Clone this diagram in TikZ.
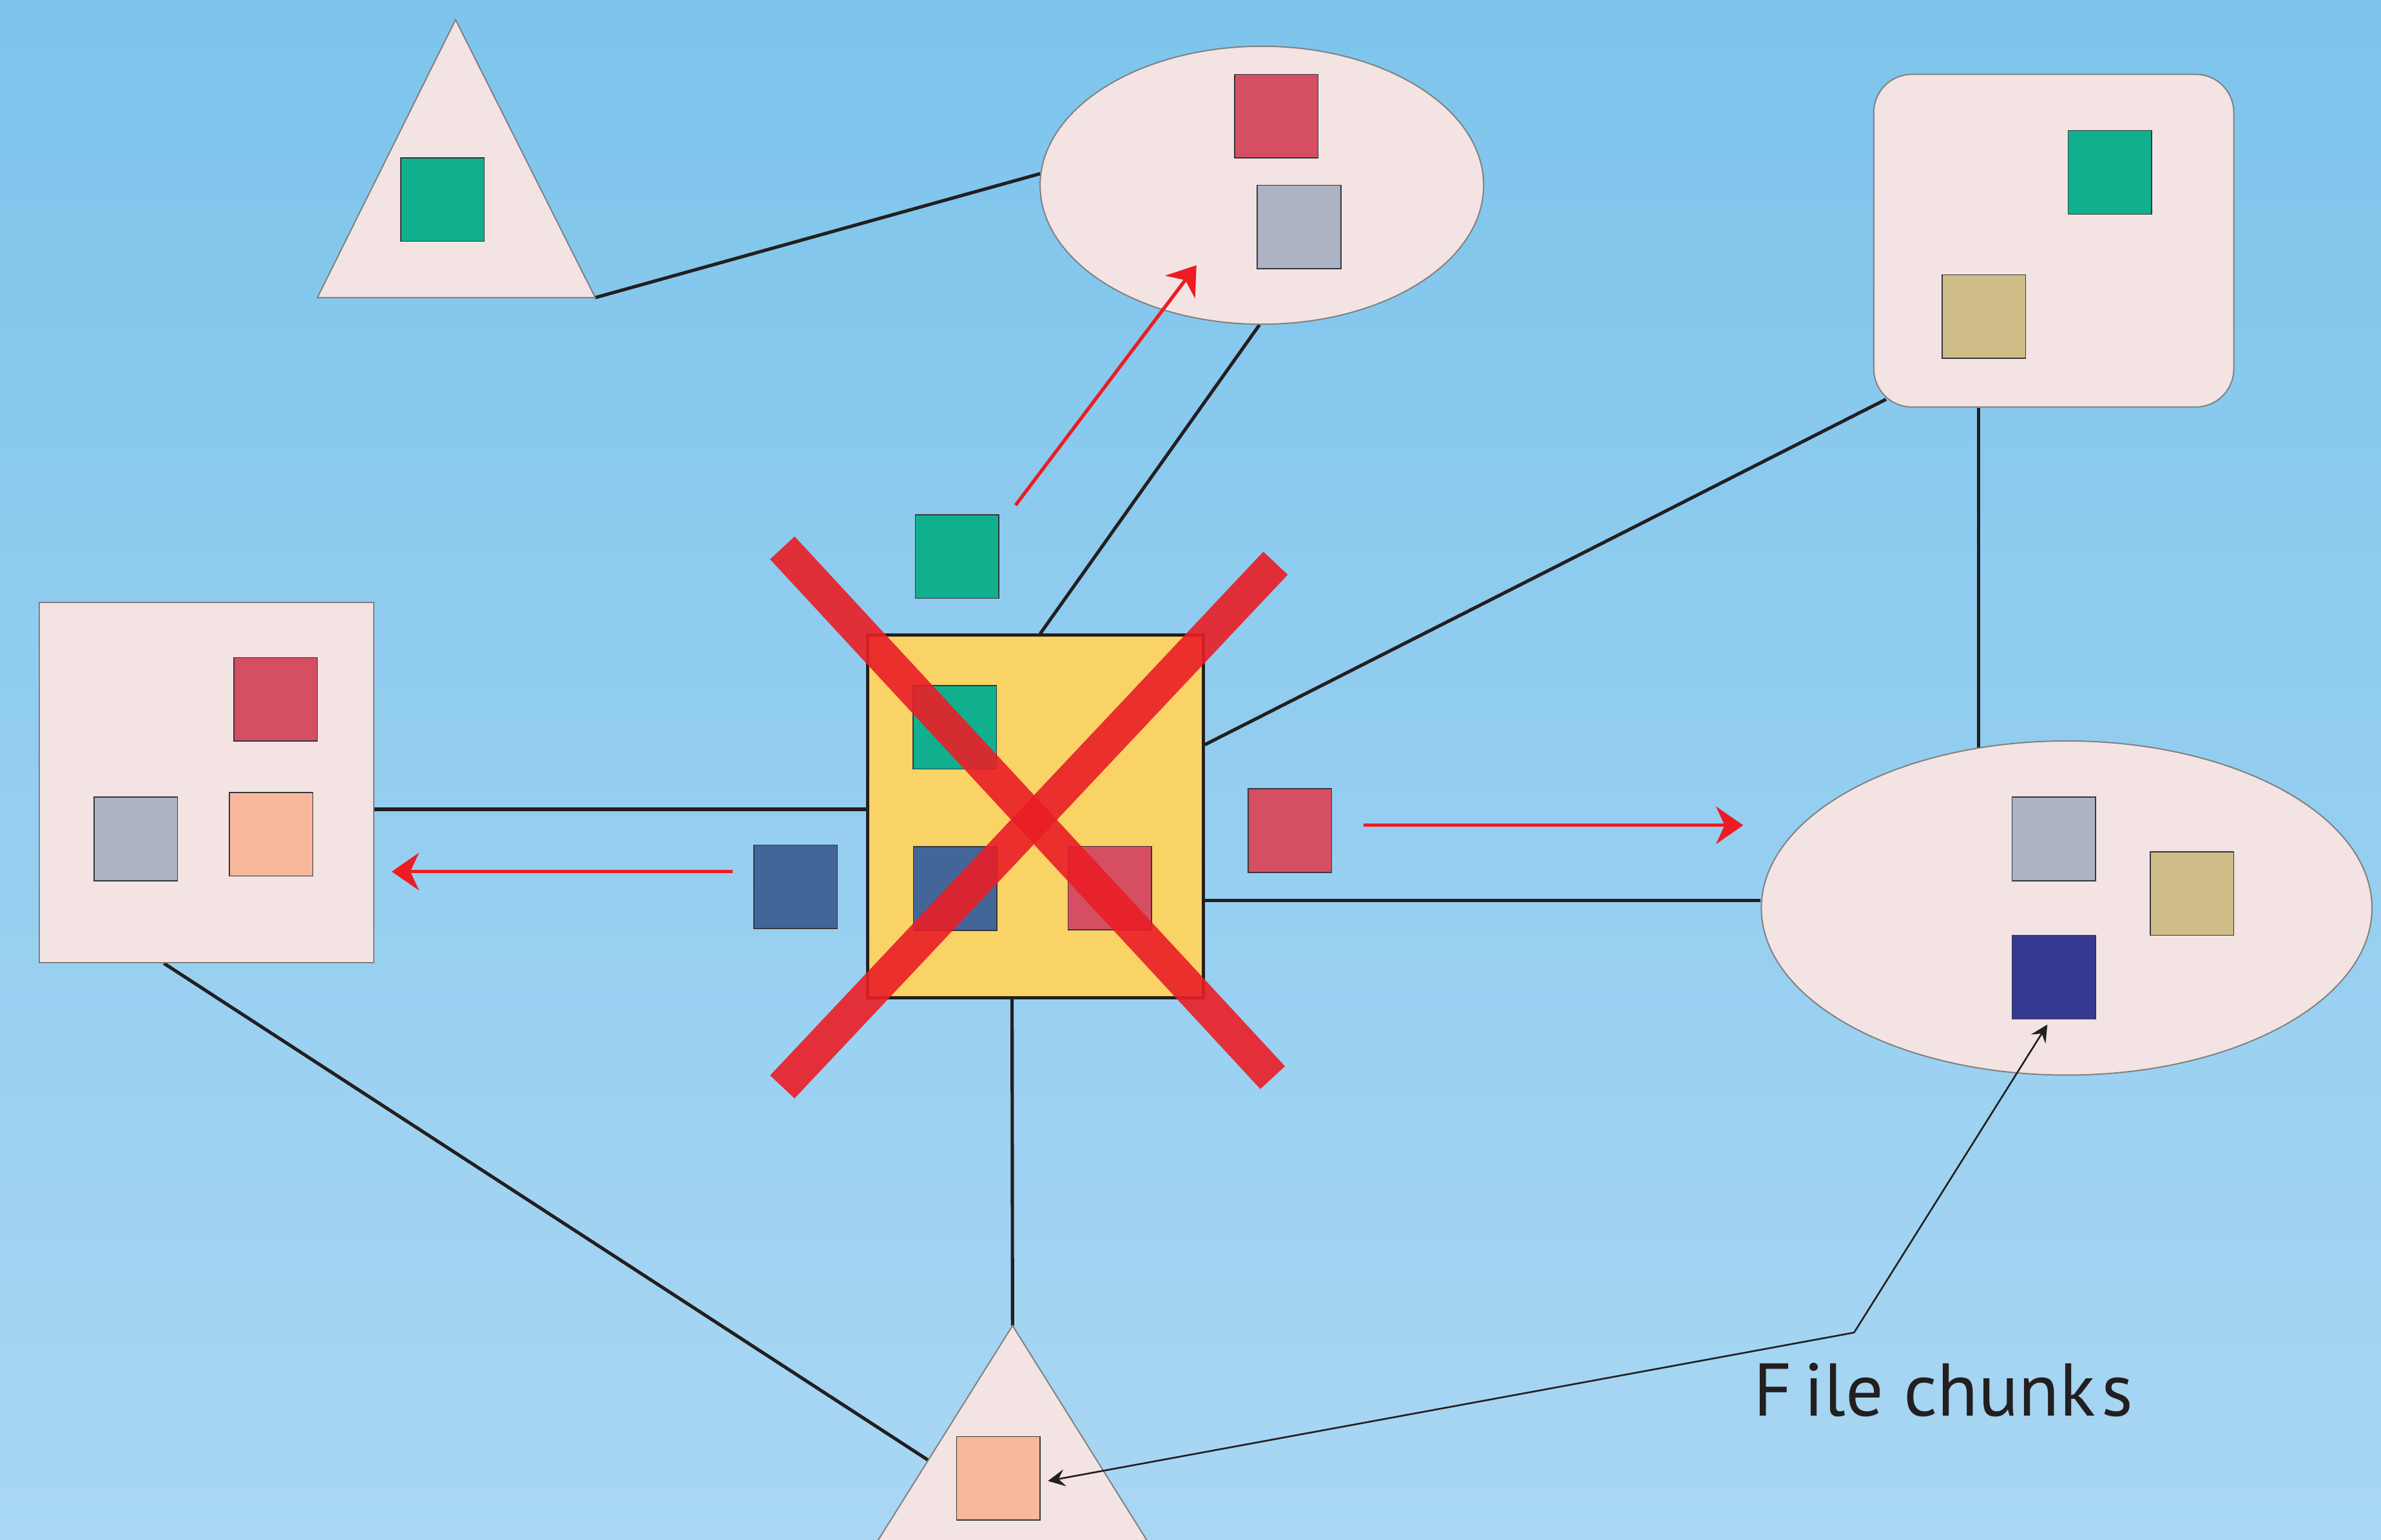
\documentclass[tikz,border=0pt]{standalone}
\usepackage{fontspec}
\newfontfamily\labelfont{PT Sans}
\usetikzlibrary{shapes.geometric,arrows.meta,calc}
\pgfdeclarelayer{bglayer}
\pgfdeclarelayer{linelayer}
\pgfsetlayers{bglayer,linelayer,main}
\definecolor{bgtop}{RGB}{125,196,236}
\definecolor{bgbottom}{RGB}{169,215,243}
\definecolor{pinkfill}{RGB}{243,227,227}
\definecolor{outlinegray}{RGB}{128,128,128}
\definecolor{linkblack}{RGB}{35,31,32}
\definecolor{boxyellow}{RGB}{249,211,102}
\definecolor{arrowred}{RGB}{237,28,36}
\definecolor{crossred}{RGB}{234,30,38}
\definecolor{cgreen}{RGB}{16,176,143}
\definecolor{cred}{RGB}{213,78,98}
\definecolor{cgray}{RGB}{171,179,196}
\definecolor{ctan}{RGB}{207,189,136}
\definecolor{cpeach}{RGB}{248,184,156}
\definecolor{csteel}{RGB}{67,102,153}
\definecolor{cnavy}{RGB}{52,58,148}
\definecolor{chunkedge}{RGB}{55,55,60}
\begin{document}
\begin{tikzpicture}[x=0.025cm,y=-0.025cm,
  pinkshape/.style={fill=pinkfill,draw=outlinegray,line width=0.6pt,inner sep=0pt},
  chunk/.style={minimum size=1.375cm,inner sep=0pt,draw=chunkedge,line width=0.45pt},
  conn/.style={draw=linkblack,line width=1.55pt},
  redarrow/.style={draw=arrowred,line width=1.6pt,-{Stealth[length=12.7pt,width=17.5pt,inset=4pt]}},
  leader/.style={draw=linkblack,line width=0.8pt,-{Stealth[length=8pt,width=8pt,inset=3pt]}},
  crossband/.style={draw=crossred,line width=15.7pt,draw opacity=0.9}]
\useasboundingbox (0,0) rectangle (1568,1014);
\clip (0,0) rectangle (1568,1014);
\begin{pgfonlayer}{bglayer}
\fill[top color=bgtop,bottom color=bgbottom] (0,0) rectangle (1568,1014);
\end{pgfonlayer}

% top-left triangle
\coordinate (ta) at (300,13);
\coordinate (tl) at (209,196);
\coordinate (tr) at (392,196);
\filldraw[pinkshape] (ta) -- (tl) -- (tr) -- cycle;
\node[chunk,fill=cgreen] (tlgreen) at (291.5,131.5) {};

% top ellipse
\node[pinkshape,ellipse,minimum width=7.3cm,minimum height=4.575cm] (topell) at (831,122) {};
\node[chunk,fill=cred] (tered) at (840.5,76.5) {};
\node[chunk,fill=cgray] (tegray) at (855.5,149.5) {};

% top-right rounded box
\node[pinkshape,rectangle,rounded corners=0.625cm,minimum width=5.925cm,minimum height=5.475cm] (rrbox) at (1352.5,158.5) {};
\node[chunk,fill=cgreen] (rrgreen) at (1389.5,113.5) {};
\node[chunk,fill=ctan] (rrtan) at (1306.5,208.5) {};

% left box
\node[pinkshape,rectangle,minimum width=5.5cm,minimum height=5.925cm] (leftbox) at (136,515.5) {};
\node[chunk,fill=cred] (lbred) at (181.5,460.5) {};
\node[chunk,fill=cgray] (lbgray) at (89.5,552.5) {};
\node[chunk,fill=cpeach] (lbpeach) at (178.5,549.5) {};

% right ellipse
\node[pinkshape,ellipse,minimum width=10.05cm,minimum height=5.5cm] (rightell) at (1361,598) {};
\node[chunk,fill=cgray] (regray) at (1352.5,552.5) {};
\node[chunk,fill=ctan] (retan) at (1443.5,588.5) {};
\node[chunk,fill=cnavy] (renavy) at (1352.5,643.5) {};

% bottom triangle
\coordinate (ba) at (666.8,873);
\coordinate (bl) at (524.6,1100);
\coordinate (br) at (808.8,1100);
\filldraw[pinkshape] (ba) -- (bl) -- (br) -- cycle;
\node[chunk,fill=cpeach] (btpeach) at (657.5,973.5) {};

% central hub
\node[draw=linkblack,line width=1.4pt,fill=boxyellow,minimum width=5.525cm,minimum height=5.97cm,inner sep=0pt] (hub) at (682,537.75) {};
\node[chunk,fill=cgreen] (hubgreen) at (628.8,479) {};
\node[chunk,fill=csteel] (hubsteel) at (629,585.2) {};
\node[chunk,fill=cred] (hubred) at (730.8,584.8) {};

% chunks in transit
\node[chunk,fill=cgreen] (mvgreen) at (630.2,366.5) {};
\node[chunk,fill=csteel] (mvsteel) at (524,584) {};
\node[chunk,fill=cred] (mvred) at (849.5,547) {};

% connectors
\coordinate (rrcorner) at (1242,263);
\coordinate (rrfoot) at ([xshift=-1.2375cm]rrbox.south);
\coordinate (hubE2) at ([yshift=-1.381cm]hub.east);
\coordinate (lbE) at ([yshift=-0.4375cm]leftbox.east);
\coordinate (lbS) at ([xshift=-0.7cm]leftbox.south);
\coordinate (btside) at (612.6,962.5);
\coordinate (hubS) at ([xshift=-0.3875cm]hub.south);
\coordinate (hubN) at ([xshift=0.075cm]hub.north);
\begin{pgfonlayer}{linelayer}
\draw[conn] (tr) -- (topell.177);
\draw[conn] (topell.-91) -- (hubN);
\draw[conn] (hub.23) -- (rrcorner);
\draw[conn] (rrfoot) -- (rrfoot |- rightell.center);
\draw[conn] (hubE2) -- (hubE2 -| rightell.west);
\draw[conn] (lbE) -- (lbE -| hub.west);
\draw[conn] (lbS) -- (btside);
\draw[conn] (hubS) -- (ba);
\end{pgfonlayer}

% red cross
\draw[crossband] (515.2,360.8) -- (838.1,709.7);
\draw[crossband] (515.2,715.8) -- (840,370.9);

% red arrows
\coordinate (upfrom) at (668.8,332.7);
\coordinate (upto) at (787.9,174.7);
\coordinate (rtfrom) at (898,543.5);
\coordinate (rtto) at (1148,543.5);
\coordinate (ltfrom) at (482.7,574);
\coordinate (ltto) at (258,574);
\draw[redarrow] (upfrom) -- (upto);
\draw[redarrow] (rtfrom) -- (rtto);
\draw[redarrow] (ltfrom) -- (ltto);

% label with leaders
\coordinate (kink) at (1221,877.6);
\draw[leader] (kink) -- ([xshift=0.12cm,yshift=-0.045cm]btpeach.east);
\draw[leader] (kink) -- ([xshift=-0.105cm,yshift=-0.085cm]renavy.south);
\node[anchor=base west,inner sep=0pt,text=linkblack,font=\labelfont\fontsize{35}{40}\selectfont] (lbl) at (1154.6,932.4) {F\kern5.5pt ile chunk\kern3pt s};
\end{tikzpicture}
\end{document}
